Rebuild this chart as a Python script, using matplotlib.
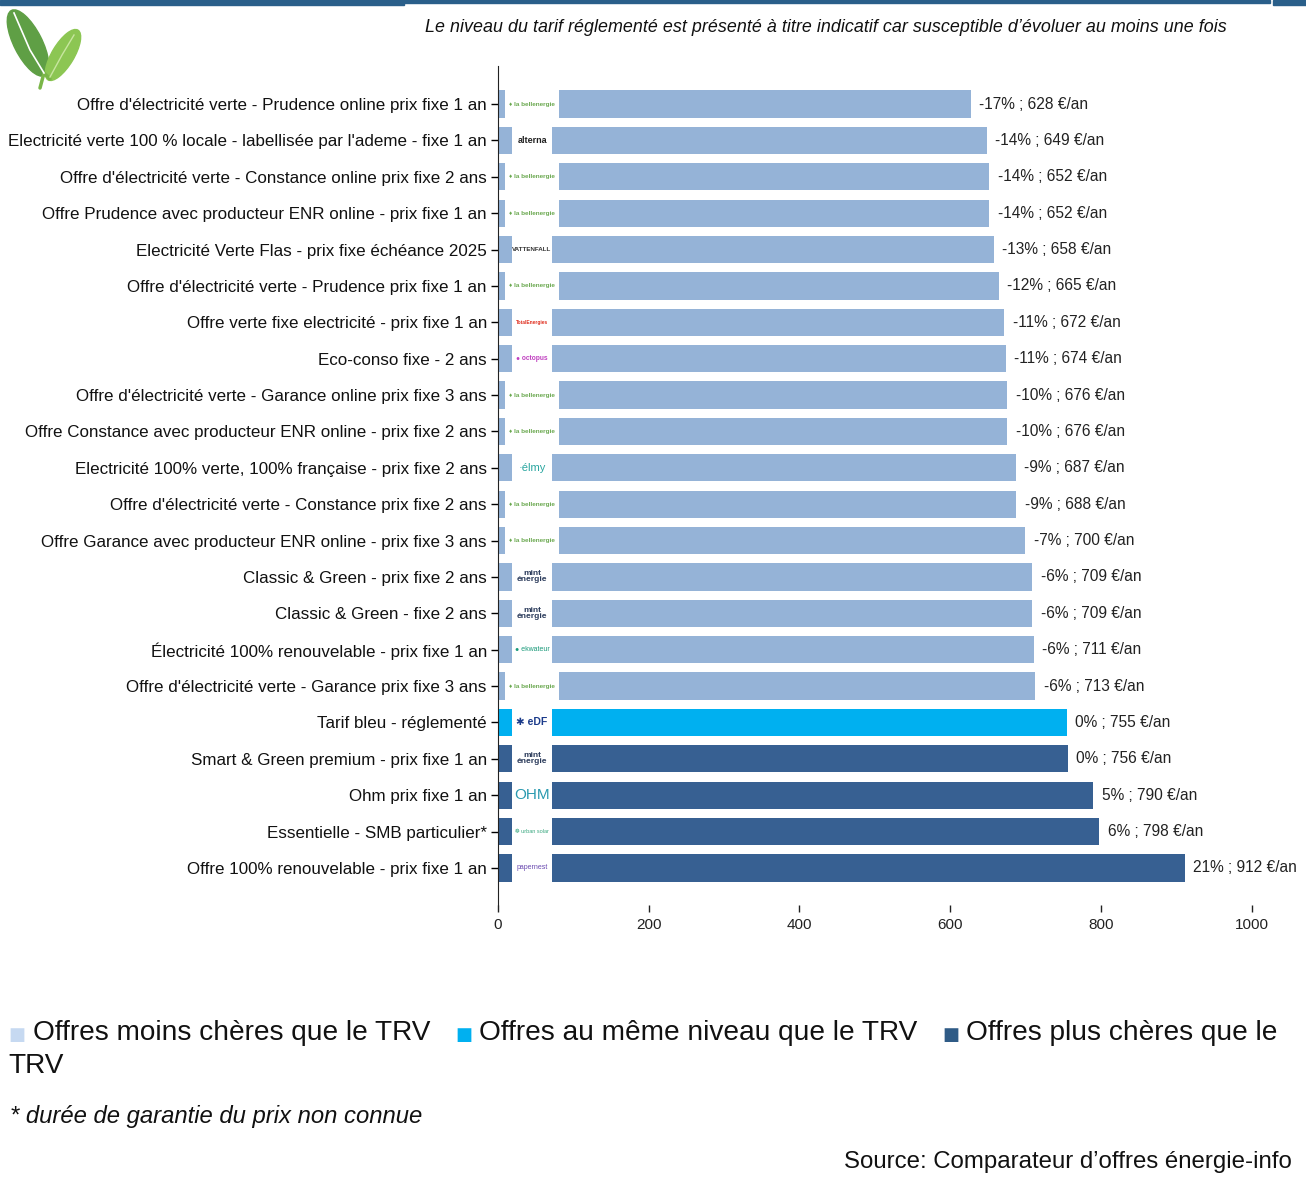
import matplotlib.pyplot as plt
import numpy as np
from matplotlib.patches import Ellipse, Rectangle

plt.rcParams['font.family'] = ['Liberation Sans', 'DejaVu Sans']

# Données
offres = [
    "Offre d'électricité verte - Prudence online prix fixe 1 an",
    "Electricité verte 100 % locale - labellisée par l'ademe - fixe 1 an",
    "Offre d'électricité verte - Constance online prix fixe 2 ans",
    "Offre Prudence avec producteur ENR online - prix fixe 1 an",
    "Electricité Verte Flas - prix fixe échéance 2025",
    "Offre d'électricité verte - Prudence prix fixe 1 an",
    "Offre verte fixe electricité - prix fixe 1 an",
    "Eco-conso fixe - 2 ans",
    "Offre d'électricité verte - Garance online prix fixe 3 ans",
    "Offre Constance avec producteur ENR online - prix fixe 2 ans",
    "Electricité 100% verte, 100% française - prix fixe 2 ans",
    "Offre d'électricité verte - Constance prix fixe 2 ans",
    "Offre Garance avec producteur ENR online - prix fixe 3 ans",
    "Classic & Green - prix fixe 2 ans",
    "Classic & Green - fixe 2 ans",
    "Électricité 100% renouvelable - prix fixe 1 an",
    "Offre d'électricité verte - Garance prix fixe 3 ans",
    "Tarif bleu - réglementé",
    "Smart & Green premium - prix fixe 1 an",
    "Ohm prix fixe 1 an",
    "Essentielle - SMB particulier*",
    "Offre 100% renouvelable - prix fixe 1 an",
]
prix = [628, 649, 652, 652, 658, 665, 672, 674, 676, 676, 687, 688, 700,
        709, 709, 711, 713, 755, 756, 790, 798, 912]
ecart = ['-17%', '-14%', '-14%', '-14%', '-13%', '-12%', '-11%', '-11%', '-10%', '-10%',
         '-9%', '-9%', '-7%', '-6%', '-6%', '-6%', '-6%', '0%', '0%', '5%', '6%', '21%']
categorie = ['moins'] * 17 + ['egal'] + ['plus'] * 4
fournisseurs = ['bellenergie', 'alterna', 'bellenergie', 'bellenergie', 'vattenfall',
                'bellenergie', 'total', 'octopus', 'bellenergie', 'bellenergie', 'elmy',
                'bellenergie', 'bellenergie', 'mint', 'mint', 'ekwateur', 'bellenergie',
                'edf', 'mint', 'ohm', 'urban', 'papernest']

couleurs = {'moins': '#95b3d7', 'egal': '#00b0f0', 'plus': '#376092'}
carres = {'moins': '#c6d9f1', 'egal': '#00b0f0', 'plus': '#2f5b86'}
legende = [('moins', 'Offres moins chères que le TRV'),
           ('egal', 'Offres au même niveau que le TRV'),
           ('plus', 'Offres plus chères que le')]

# texte des logos : (texte, couleur, taille, poids)
logos = {
    'bellenergie': ('♦ la bellenergie', '#6aa84f', 4.6, 'bold'),
    'alterna': ('alterna', '#222222', 6.5, 'bold'),
    'vattenfall': ('VATTENFALL', '#333333', 4.5, 'bold'),
    'total': ('TotalEnergies', '#e03020', 3.5, 'bold'),
    'octopus': ('● octopus', '#c040c0', 4.8, 'bold'),
    'elmy': ('·élmy', '#2aa6a0', 8, 'normal'),
    'mint': ('mint\nénergie', '#2a3a5a', 6, 'bold'),
    'ekwateur': ('● ekwateur', '#1a9a7a', 5, 'normal'),
    'edf': ('✱ eDF', '#1a3a8a', 7.5, 'bold'),
    'ohm': ('OHM', '#2a9ab0', 11, 'normal'),
    'urban': ('❁ urban solar', '#3aa880', 4, 'normal'),
    'papernest': ('papernest', '#6a4ab0', 5, 'normal'),
}

fig = plt.figure(figsize=(13.06, 11.78), dpi=100)
ax = fig.add_axes([0.3813, 0.2317, 0.6116, 0.7122])

y = np.arange(len(offres))
cols = [couleurs[c] for c in categorie]
ax.barh(y, prix, height=0.75, color=cols, zorder=2)

# cadre blanc des logos
for i, f in enumerate(fournisseurs):
    if f == 'bellenergie':
        g0, g1 = 9, 81
    else:
        g0, g1 = 18.5, 72
    ax.barh(i, g1 - g0, left=g0, height=0.8, color='white', zorder=3)
    txt, c, s, w = logos[f]
    ax.text((g0 + g1) / 2, i, txt, color=c, fontsize=s, fontweight=w,
            ha='center', va='center', zorder=4, linespacing=0.8)

for i, (p, e) in enumerate(zip(prix, ecart)):
    ax.text(p + 11, i, f'{e} ; {p} €/an', va='center', ha='left', fontsize=11.2,
            color='#222222')

ax.set_yticks(y)
ax.set_yticklabels(offres, fontsize=12.25, color='#111111')
ax.set_ylim(22.02, -1.045)
ax.set_xlim(0, 1060)
ax.set_xticks([0, 200, 400, 600, 800, 1000])
ax.tick_params(axis='x', labelsize=11, length=5, width=1, pad=4, colors='#222222')
ax.tick_params(axis='y', length=5, width=1, pad=3)
for s in ['top', 'right', 'bottom']:
    ax.spines[s].set_visible(False)
ax.spines['left'].set_color('#222222')

# bandeau du haut
fig.patches.append(Rectangle((0, 1 - 5 / 1178), 404 / 1306, 5 / 1178,
                             transform=fig.transFigure, color='#2a5f8a'))
fig.patches.append(Rectangle((404 / 1306, 1 - 3 / 1178), 866 / 1306, 3 / 1178,
                             transform=fig.transFigure, color='#2a5f8a'))
fig.patches.append(Rectangle((1273 / 1306, 1 - 5 / 1178), 33 / 1306, 5 / 1178,
                             transform=fig.transFigure, color='#2a5f8a'))

# feuilles (logo)
lax = fig.add_axes([0, 1 - 95 / 1178, 85 / 1306, 95 / 1178])
lax.set_xlim(0, 85)
lax.set_ylim(0, 95)
lax.axis('off')
lax.plot([40, 44, 50], [7, 22, 16], color='#7ab648', lw=2.5, solid_capstyle='round')
lax.add_patch(Ellipse((28, 52), 73, 28, angle=117, color='#5f9f45'))
lax.add_patch(Ellipse((63, 40), 58, 22, angle=59, color='#8cc653'))
lax.plot([14, 30, 44], [82, 45, 22], color='white', lw=1.2)
lax.plot([74, 62, 50], [60, 40, 18], color='#c8e6a0', lw=1.0)

fig.text(1227 / 1306, 1 - 27 / 1178,
         "Le niveau du tarif réglementé est présenté à titre indicatif car susceptible d’évoluer au moins une fois",
         ha='right', va='center', fontsize=12.9, style='italic', color='#111111')

# légende
pos = [(8, 33), (455, 479), (942, 966)]
for (k, t), (xs, xt) in zip(legende, pos):
    fig.text(xs / 1306, 1 - 1035 / 1178, '■', color=carres[k], fontsize=13,
             ha='left', va='center', family='DejaVu Sans')
    fig.text(xt / 1306, 1 - 1033 / 1178, t, fontsize=20.2, ha='left', va='center',
             color='#111111')
fig.text(8 / 1306, 1 - 1066 / 1178, 'TRV', fontsize=20.2, ha='left', va='center',
         color='#111111')

fig.text(10 / 1306, 1 - 1116 / 1178, '* durée de garantie du prix non connue',
         fontsize=17.2, style='italic', ha='left', va='center', color='#111111')
fig.text(1292 / 1306, 1 - 1162 / 1178, 'Source: Comparateur d’offres énergie-info',
         fontsize=17.3, ha='right', va='center', color='#111111')

fig.savefig('out.png', dpi=100)
